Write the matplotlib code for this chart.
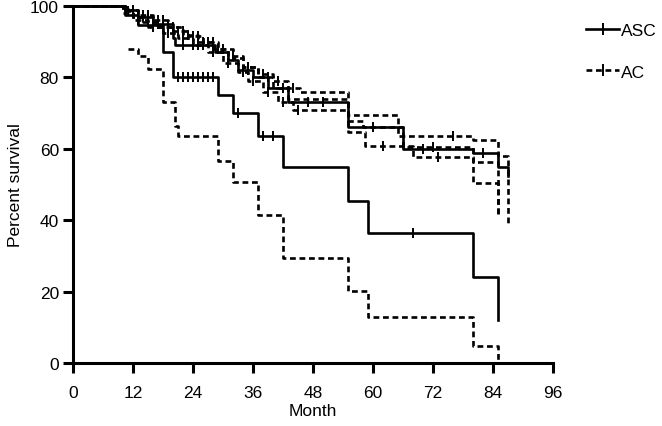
import numpy as np
import matplotlib.pyplot as plt
from matplotlib.lines import Line2D

plt.rcParams['font.family'] = ['Liberation Sans', 'DejaVu Sans']

# lower pair (steps, 'post')
asc_t = [0, 10.5, 13, 18.1, 20, 29, 32, 37, 42, 55, 59, 80, 85]
asc_s = [100, 97.5, 94.6, 87, 80, 75, 70, 63.7, 54.8, 45.5, 36.3, 24.2, 12]
asc_cens = [21, 22, 23, 24, 25, 26, 27, 28, 33, 38, 40, 68]

ac_t = [11.1, 13, 15, 18.1, 20.4, 21, 29, 32, 37, 42, 55, 59, 80, 85]
ac_s = [88, 86, 82.5, 73, 66.5, 63.5, 56.7, 50.6, 41.5, 29.3, 20.3, 12.8, 4.9, 0]

# upper group
up_t = [0, 10.5, 13, 16, 20, 20.5, 28.5, 31, 33, 36, 39, 43, 55, 66, 80, 85, 87]
up_s = [100, 99, 97, 95, 91, 89, 87, 85, 82, 80, 77, 73, 66, 60, 58.8, 54.8, 52.5]
up_cens = [12, 14, 15, 17, 22, 24, 26, 35, 47, 50, 70, 82]

d1_t = [0, 10, 12, 14, 17, 20, 23, 26, 29, 32, 34, 37, 40, 43, 45.4, 55, 65, 80, 85, 87]
d1_s = [100, 98.5, 97, 95.5, 94, 93, 91.5, 90, 88, 85.5, 83, 81, 79, 77, 75.8, 69.4, 63.7, 62.5, 58, 39]
d1_cens = [11, 13, 15, 16, 18, 19, 21, 22, 24, 25, 27, 28, 30, 38, 41, 44, 76]

d2_t = [0, 11, 13, 16, 19, 22, 25, 28, 31, 34, 37, 40, 43, 55, 58, 66, 80, 85]
d2_s = [100, 99, 97.5, 96, 94, 92, 90, 88, 86, 83, 80, 77, 74, 67.9, 66, 60.4, 56.4, 41]
d2_cens = [14, 15, 17, 18, 20, 23, 26, 29, 32, 35, 39, 42, 60, 72]

d3_t = [0, 10, 12, 15, 18, 21, 24, 27, 30, 33, 35, 38, 41, 44, 55, 58.5, 68, 80, 85]
d3_s = [100, 98, 96, 94, 92.5, 91, 89, 87, 84, 81.5, 79, 76, 73, 71, 64.6, 60.7, 57.6, 50.4, 41]
d3_cens = [13, 16, 19, 22, 25, 28, 31, 34, 36, 39, 42, 45, 62, 73]

x_ticks = [0, 12, 24, 36, 48, 60, 72, 84, 96]
y_ticks = [0, 20, 40, 60, 80, 100]

LW = 1.9
DASH = (0, (2.2, 1.4))


def value_at(times, surv, t):
    i = np.searchsorted(times, t, side='right') - 1
    return np.asarray(surv)[i]


def draw(ax, times, surv, cens, ls):
    ax.step(times, surv, where='post', color='black', lw=LW, ls=ls,
            clip_on=False)
    if cens:
        ax.plot(cens, value_at(times, surv, cens), ls='none', marker='|',
                ms=7, mew=1.4, color='black', clip_on=False)


fig = plt.figure(figsize=(6.62, 4.27), dpi=100)
ax = fig.add_axes([0.110, 0.1475, 0.725, 0.836])

draw(ax, d1_t, d1_s, d1_cens, DASH)
draw(ax, d2_t, d2_s, d2_cens, DASH)
draw(ax, d3_t, d3_s, d3_cens, DASH)
draw(ax, up_t, up_s, up_cens, '-')
draw(ax, ac_t, ac_s, [], DASH)
draw(ax, asc_t, asc_s, asc_cens, '-')

ax.set_xlim(0, 96)
ax.set_ylim(0, 100)
ax.set_xticks(x_ticks)
ax.set_yticks(y_ticks)
for s in ['top', 'right']:
    ax.spines[s].set_visible(False)
for s in ['left', 'bottom']:
    ax.spines[s].set_linewidth(2.2)
ax.tick_params(direction='out', length=7, width=2.2, labelsize=12.5)
ax.tick_params(axis='x', pad=9)
ax.tick_params(axis='y', pad=3)
ax.set_xlabel('Month', fontsize=12.5, labelpad=2)
ax.set_ylabel('Percent survival', fontsize=12.5, labelpad=5)

handles = [
    Line2D([0, 1, 2], [0, 0, 0], color='black', lw=LW, marker='|', ms=9,
           mew=1.4, markevery=[1], ls='-'),
    Line2D([0, 1, 2], [0, 0, 0], color='black', lw=LW, marker='|', ms=9,
           mew=1.4, markevery=[1], ls=DASH),
]
fig.legend(handles, ['ASC', 'AC'], loc='upper left',
           bbox_to_anchor=(0.862, 0.98), frameon=False, fontsize=12.5,
           handlelength=1.9, handletextpad=0.1, labelspacing=1.5)

fig.savefig('out.png', dpi=100)
